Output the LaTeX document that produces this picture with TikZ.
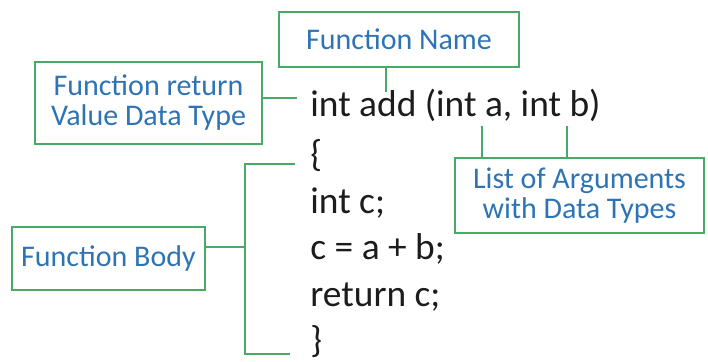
\documentclass[tikz,border=0pt]{standalone}
\usepackage{fontspec}
\setmainfont{Carlito}
\usepackage{xcolor}
\usepackage{tikz}
\usetikzlibrary{positioning}

\definecolor{labelblue}{RGB}{46,116,181}
\definecolor{boxgreen}{RGB}{72,170,100}
\definecolor{codegray}{RGB}{28,28,28}

\tikzset{
	labelbox/.style={draw=boxgreen, line width=1.25pt, text=labelblue, align=center,
		inner sep=0pt, font=\fontsize{15}{15}\selectfont},
	code/.style={anchor=base west, inner sep=0pt, text=codegray,
		font=\fontsize{18.7}{22}\selectfont},
	link/.style={draw=boxgreen, line width=1pt}
}

\begin{document}
\begin{tikzpicture}[x=0.5pt,y=-0.5pt]
	\useasboundingbox (0,0) rectangle (708,361);

	% the function, one line per node
	\node[code] (sig) at (310,116) {int add (int a, int b)};
	\node[code] (open) at (310,166) {\{};
	\node[code] (decl) at (310,213) {int c;};
	\node[code] (sum) at (310,259) {c = a + b;};
	\node[code] (ret) at (310,306) {return c;};
	\node[code] (close) at (310,352) {\}};

	% the labels
	\node[labelbox, minimum width=120pt, minimum height=27.5pt] (fname) at (399,39.5) {Function Name};
	\node[labelbox, minimum width=113.5pt, minimum height=41pt] (fret) at (148.5,103) {Function return\\Value Data Type};
	\node[labelbox, minimum width=96.5pt, minimum height=31.5pt] (fbody) at (108.5,258.5) {Function Body};
	\node[labelbox, minimum width=124.5pt, minimum height=37.5pt] (fargs) at (579.5,195.5) {List of Arguments\\with Data Types};

	% free ends of the connectors
	\coordinate (nameend) at (386,92);
	\coordinate (retend) at (297,98);
	\coordinate (arga) at (482,126);
	\coordinate (argb) at (567,126);
	\coordinate (btop) at (295,164);
	\coordinate (bmid) at (245,247);
	\coordinate (bbot) at (290,354);

	\draw[link] (nameend |- fname.south) -- (nameend);
	\draw[link] (fret.east |- retend) -- (retend);
	\draw[link] (arga) -- (arga |- fargs.north);
	\draw[link] (argb) -- (argb |- fargs.north);
	\draw[link] (btop) -| (bmid) |- (bbot);
	\draw[link] (fbody.east |- bmid) -- (bmid);
\end{tikzpicture}
\end{document}
